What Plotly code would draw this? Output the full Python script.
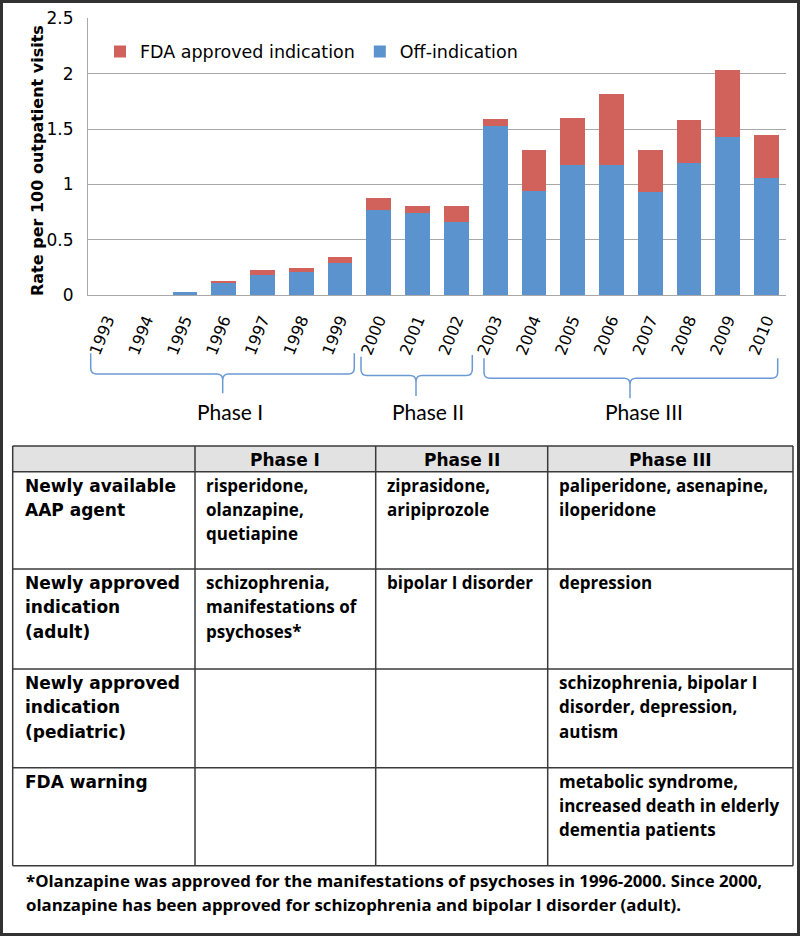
import plotly.graph_objects as go

# ---------------- data ----------------
years = ["1993", "1994", "1995", "1996", "1997", "1998", "1999", "2000", "2001",
         "2002", "2003", "2004", "2005", "2006", "2007", "2008", "2009", "2010"]
off_indication = [0, 0, 0.03, 0.11, 0.18, 0.21, 0.29, 0.77, 0.74, 0.66,
                  1.53, 0.94, 1.18, 1.18, 0.93, 1.19, 1.43, 1.06]
fda_approved = [0, 0, 0, 0.02, 0.05, 0.04, 0.06, 0.11, 0.07, 0.15,
                0.06, 0.37, 0.42, 0.64, 0.38, 0.39, 0.60, 0.39]
y_ticks = [0, 0.5, 1, 1.5, 2, 2.5]

phase_names = ["Phase I", "Phase II", "Phase III"]
row_labels = ["Newly available\nAAP agent",
              "Newly approved\nindication\n(adult)",
              "Newly approved\nindication\n(pediatric)",
              "FDA warning"]
phase1_cells = ["risperidone,\nolanzapine,\nquetiapine",
                "schizophrenia,\nmanifestations of\npsychoses*", "", ""]
phase2_cells = ["ziprasidone,\naripiprozole", "bipolar I disorder", "", ""]
phase3_cells = ["paliperidone, asenapine,\niloperidone",
                "depression",
                "schizophrenia, bipolar I\ndisorder, depression,\nautism",
                "metabolic syndrome,\nincreased death in elderly\ndementia patients"]
footnote_lines = ["*Olanzapine was approved for the manifestations of psychoses in 1996-2000. Since 2000,",
                  "olanzapine has been approved for schizophrenia and bipolar I disorder (adult)."]

# ---------------- helpers (pixel -> paper) ----------------
W, H = 800, 936
def X(px):
    return px / W
def Y(py):
    return 1 - py / H

BLUE = "#5b93cf"
RED = "#d0625b"
GRID = "#a8a8a8"
BRACE = "#6a9ad4"

fig = go.Figure()
fig.add_trace(go.Bar(x=years, y=off_indication, name="Off-indication",
                     marker=dict(color=BLUE, line=dict(width=0))))
fig.add_trace(go.Bar(x=years, y=fda_approved, name="FDA approved indication",
                     marker=dict(color=RED, line=dict(width=0))))

PL, PR, PT, PB = 88, 786, 18.3, 295.3

fig.update_layout(
    width=W, height=H,
    margin=dict(l=0, r=0, t=0, b=0),
    paper_bgcolor="white", plot_bgcolor="white",
    barmode="stack", bargap=0.363,
    font=dict(family="DejaVu Sans", color="black"),
    showlegend=True,
    legend=dict(orientation="h", traceorder="reversed",
                x=X(100), y=Y(51.5), xanchor="left", yanchor="middle",
                bgcolor="rgba(0,0,0,0)", font=dict(family="DejaVu Sans", size=17.5),
                itemwidth=30, tracegroupgap=0),
    xaxis=dict(domain=[X(PL), X(PR)], type="category", tickangle=-68,
               tickfont=dict(family="DejaVu Sans", size=16, color="black"),
               showline=True, linecolor=GRID, linewidth=1,
               ticks="", showgrid=False, ticklabelstandoff=8,
               automargin=False),
    yaxis=dict(domain=[Y(PB), Y(PT)], range=[0, 2.5], tickvals=y_ticks,
               tickfont=dict(family="DejaVu Sans", size=17, color="black"),
               showline=True, linecolor=GRID, linewidth=1,
               showgrid=True, gridcolor=GRID, gridwidth=1, zeroline=False,
               ticks="", ticklabelstandoff=10, automargin=False),
)

annotations = []
shapes = []

# y-axis title
annotations.append(dict(x=X(37), y=Y(161), xref="paper", yref="paper",
                        xanchor="center", yanchor="middle",
                        text="<b>Rate per 100 outpatient visits</b>", textangle=-90,
                        showarrow=False, font=dict(family="DejaVu Sans", size=16, color="black")))

# phase braces (pixel geometry)
def brace(left, right, top_l, top_r, h, cx, tip, r=6):
    pts = [
        f"M{X(left)},{Y(top_l)}", f"L{X(left)},{Y(h - r)}",
        f"Q{X(left)},{Y(h)} {X(left + r)},{Y(h)}",
        f"L{X(cx - r)},{Y(h)}",
        f"Q{X(cx)},{Y(h)} {X(cx)},{Y(h + r)}",
        f"L{X(cx)},{Y(tip)}",
        f"M{X(cx)},{Y(h + r)}",
        f"Q{X(cx)},{Y(h)} {X(cx + r)},{Y(h)}",
        f"L{X(right - r)},{Y(h)}",
        f"Q{X(right)},{Y(h)} {X(right)},{Y(h - r)}",
        f"L{X(right)},{Y(top_r)}",
    ]
    return " ".join(pts)

brace_geo = [
    (90.7, 354.3, 353.3, 353.3, 374, 222.7, 393.3),
    (361, 472.3, 356.7, 355, 375.5, 416, 396),
    (484, 777.7, 358.3, 358.3, 378.3, 630, 398.3),
]
for g in brace_geo:
    shapes.append(dict(type="path", xref="paper", yref="paper", path=brace(*g),
                       line=dict(color=BRACE, width=1.5)))

label_x = [230.3, 428, 644.2]
for name, lx in zip(phase_names, label_x):
    annotations.append(dict(x=X(lx), y=Y(411), xref="paper", yref="paper",
                            xanchor="center", yanchor="middle", text=name,
                            showarrow=False, font=dict(family="Lato", size=21, color="black")))

# ---------------- table ----------------
col_x = [12.7, 195, 375.7, 547.7, 793]
row_y = [446, 471.7, 569, 669, 767.7, 865.7]
LINE = "#3a3a3a"

shapes.append(dict(type="rect", xref="paper", yref="paper",
                   x0=X(col_x[0]), x1=X(col_x[-1]), y0=Y(row_y[1]), y1=Y(row_y[0]),
                   fillcolor="#e2e2e2", line=dict(width=0), layer="below"))
for ry in row_y:
    shapes.append(dict(type="line", xref="paper", yref="paper",
                       x0=X(col_x[0]), x1=X(col_x[-1]), y0=Y(ry), y1=Y(ry),
                       line=dict(color=LINE, width=1.5)))
for cxp in col_x:
    shapes.append(dict(type="line", xref="paper", yref="paper",
                       x0=X(cxp), x1=X(cxp), y0=Y(row_y[-1]), y1=Y(row_y[0]),
                       line=dict(color=LINE, width=1.5)))

# header
for i, name in enumerate(phase_names):
    cx = (col_x[i + 1] + col_x[i + 2]) / 2
    annotations.append(dict(x=X(cx), y=Y(460.2), xref="paper", yref="paper",
                            xanchor="center", yanchor="middle",
                            text=f"<b>{name}</b>", showarrow=False,
                            font=dict(family="DejaVu Sans", size=17, color="black")))

LINE_H = 24.3
def add_cell(text, left, row_top, family, offset):
    if not text:
        return
    for k, line in enumerate(text.split("\n")):
        base = row_top + 20 + k * LINE_H
        annotations.append(dict(x=X(left), y=Y(base - offset), xref="paper", yref="paper",
                                xanchor="left", yanchor="middle", text=f"<b>{line}</b>",
                                showarrow=False,
                                font=dict(family=family, size=17, color="black")))

columns = [phase1_cells, phase2_cells, phase3_cells]
for r, lab in enumerate(row_labels):
    top = row_y[r + 1]
    add_cell(lab, 22.7, top, "DejaVu Sans", 5.9)
    for c, cells in enumerate(columns):
        add_cell(cells[r], col_x[c + 1] + 8.8, top, "Open Sans", 6.6)

# footnote
for k, line in enumerate(footnote_lines):
    base = 887.3 + k * 23.5
    annotations.append(dict(x=X(24), y=Y(base - 6.4), xref="paper", yref="paper",
                            xanchor="left", yanchor="middle", text=f"<b>{line}</b>",
                            showarrow=False,
                            font=dict(family="Open Sans", size=16.8, color="black")))

# outer frame
shapes.append(dict(type="rect", xref="paper", yref="paper",
                   x0=X(1.5), x1=X(798.5), y0=Y(934.5), y1=Y(1.5),
                   line=dict(color="#333333", width=3)))

fig.update_layout(annotations=annotations, shapes=shapes)
fig.write_html("out.html", config={"displayModeBar": False},
               post_script="document.body.style.margin='0';")
